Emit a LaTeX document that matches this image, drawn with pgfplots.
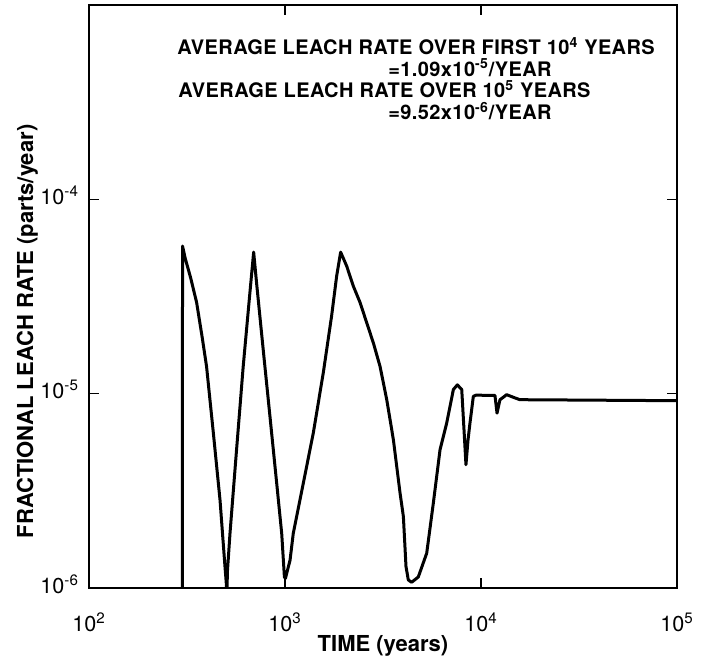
\documentclass[border=0pt]{standalone}
\usepackage{fontspec}
\setmainfont{TeX Gyre Heros}
\newfontfamily\annfont[LetterSpace=2]{TeX Gyre Heros}
\usepackage{pgfplots}
\pgfplotsset{compat=1.18}

\begin{document}
\begin{tikzpicture}
\begin{axis}[
  xmode=log, ymode=log,
  scale only axis,
  width=294pt, height=291.5pt,
  xmin=100, xmax=100000, ymin=1e-6, ymax=1e-3,
  xtick={100,1000,10000,100000},
  xticklabels={10\textsuperscript{2},10\textsuperscript{3},10\textsuperscript{4},10\textsuperscript{5}},
  ytick={1e-6,1e-5,1e-4},
  yticklabels={10\textsuperscript{-6},10\textsuperscript{-5},10\textsuperscript{-4}},
  minor tick length=0pt,
  tick align=inside,
  major tick length=5pt,
  axis line style={line width=0.8pt},
  every tick/.style={line width=0.8pt, black},
  ticklabel style={font=\fontsize{10.8}{12}\selectfont},
  xticklabel style={yshift=-9pt},
  yticklabel style={xshift=-1.5pt, yshift=2pt},
  xlabel={TIME (years)},
  ylabel={FRACTIONAL LEACH RATE (parts/year)},
  label style={font=\fontsize{11}{12}\selectfont\bfseries},
  xlabel style={at={(axis description cs:0.5,-0.1)}, anchor=center},
  ylabel style={at={(axis description cs:-0.105,0.44)}, anchor=center},
]
\addplot[black, line width=1.5pt, line join=round] coordinates {
(299.5,1e-7)
(300,5.75e-5)
(310,4.95e-5)
(330,3.95e-5)
(354,2.95e-5)
(378,1.95e-5)
(398,1.38e-5)
(431,6.27e-6)
(466,2.84e-6)
(494,1.29e-6)
(502,1.05e-6)
(505,8e-7)
(508,1.2e-6)
(524,1.91e-6)
(566,5.14e-6)
(612,1.38e-5)
(662,3.30e-5)
(692,5.35e-5)
(716,3.72e-5)
(774,1.69e-5)
(838,7.64e-6)
(907,3.46e-6)
(962,1.91e-6)
(993,1.14e-6)
(1005,1.12e-6)
(1061,1.39e-6)
(1102,1.91e-6)
(1240,3.46e-6)
(1394,6.27e-6)
(1568,1.28e-5)
(1729,2.51e-5)
(1835,4.03e-5)
(1923,5.35e-5)
(2065,4.53e-5)
(2233,3.57e-5)
(2417,2.94e-5)
(2614,2.31e-5)
(2826,1.82e-5)
(3055,1.38e-5)
(3305,9.31e-6)
(3573,5.79e-6)
(3864,3.08e-6)
(4018,2.33e-6)
(4143,1.29e-6)
(4257,1.10e-6)
(4428,1.07e-6)
(4788,1.14e-6)
(5284,1.51e-6)
(5714,2.74e-6)
(6179,5.14e-6)
(6683,7.06e-6)
(7228,1.05e-5)
(7575,1.11e-5)
(7977,1.05e-5)
(8190,6.52e-6)
(8380,4.31e-6)
(8590,5.8e-6)
(8790,7.09e-6)
(9140,9.69e-6)
(9430,9.82e-6)
(11780,9.8e-6)
(12070,7.94e-6)
(12500,9.31e-6)
(13520,9.88e-6)
(14900,9.51e-6)
(15800,9.31e-6)
(100000,9.2e-6)
};
\coordinate (SW) at (rel axis cs:0,0);
\coordinate (NE) at (rel axis cs:1,1);
\node[anchor=base west, font=\fontsize{10}{12}\annfont\bfseries, inner sep=0pt] at (rel axis cs:0.1497,0.9143) {AVERAGE LEACH RATE OVER FIRST 10\textsuperscript{4} YEARS};
\node[anchor=base west, font=\fontsize{10}{12}\annfont\bfseries, inner sep=0pt] at (rel axis cs:0.5085,0.8782) {=1.09x10\textsuperscript{-5}/YEAR};
\node[anchor=base west, font=\fontsize{10}{12}\annfont\bfseries, inner sep=0pt] at (rel axis cs:0.1514,0.8405) {AVERAGE LEACH RATE OVER 10\textsuperscript{5} YEARS};
\node[anchor=base west, font=\fontsize{10}{12}\annfont\bfseries, inner sep=0pt] at (rel axis cs:0.5085,0.8028) {=9.52x10\textsuperscript{-6}/YEAR};
\end{axis}
\pgfresetboundingbox
\path[use as bounding box] ([xshift=-44.5pt,yshift=-35.5pt]SW) rectangle ([xshift=16pt,yshift=2.5pt]NE);
\end{tikzpicture}
\end{document}
